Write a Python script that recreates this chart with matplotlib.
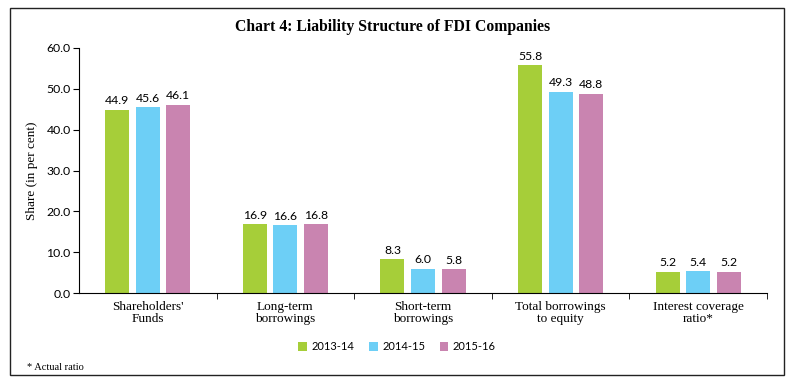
import matplotlib.pyplot as plt
import numpy as np
from matplotlib.patches import Rectangle

plt.rcParams['font.family'] = ['Liberation Serif', 'DejaVu Serif']
num_font = ['Lato', 'DejaVu Sans']

categories = ["Shareholders'\nFunds", "Long-term\nborrowings", "Short-term\nborrowings",
              "Total borrowings\nto equity", "Interest coverage\nratio*"]
years = ["2013-14", "2014-15", "2015-16"]
v_2013 = [44.9, 16.9, 8.3, 55.8, 5.2]
v_2014 = [45.6, 16.6, 6.0, 49.3, 5.4]
v_2015 = [46.1, 16.8, 5.8, 48.8, 5.2]
colors = ["#a6ce39", "#6dcff6", "#c984b0"]

fig = plt.figure(figsize=(7.93, 3.89), dpi=100)
ax = fig.add_axes([79/793, 1-293/389, (767-79)/793, 245/389])

x = np.arange(len(categories))
w = 0.174
step = 0.222
for i, (vals, c, lab) in enumerate(zip([v_2013, v_2014, v_2015], colors, years)):
    bars = ax.bar(x + (i-1)*step, vals, w, color=c, label=lab)
    for b, v in zip(bars, vals):
        ax.text(b.get_x()+b.get_width()/2, v+0.8, f"{v:.1f}", ha='center', va='bottom',
                fontsize=8.8, family=num_font)

ax.set_xlim(-0.5, len(categories)-0.5)
ax.set_ylim(0, 60)
ax.set_yticks(np.arange(0, 61, 10))
ax.set_yticklabels([f"{t:.1f}" for t in np.arange(0, 61, 10)], fontsize=8.8, family=num_font)
ax.set_xticks(x)
ax.set_xticklabels(categories, fontsize=9.5, linespacing=1.0)
ax.tick_params(axis='x', length=0, pad=6)
ax.set_xticks(list(np.arange(0.5, len(categories))), minor=True)
ax.tick_params(axis='x', which='minor', length=4, direction='out')
ax.tick_params(axis='y', length=4, pad=2)
for s in ['top', 'right']:
    ax.spines[s].set_visible(False)
ax.set_ylabel("Share (in per cent)", fontsize=9.5, labelpad=6)

fig.legend(loc='center', bbox_to_anchor=(397/793, 1-347/389), ncol=3, frameon=False,
           prop={'family': num_font, 'size': 8}, handlelength=0.8, handleheight=0.8,
           columnspacing=1.3, handletextpad=0.4)

fig.text(393/793, 1-27/389, "Chart 4: Liability Structure of FDI Companies", ha='center', va='center',
         fontsize=11.3, fontweight='bold')
fig.text(27/793, 1-367/389, "* Actual ratio", ha='left', va='center', fontsize=7.5)

fig.patches.append(Rectangle((10/793, 1-375/389), (784-10)/793, (375-8)/389, transform=fig.transFigure,
                             fill=False, edgecolor='#222222', linewidth=1.0))

fig.savefig("out.png", dpi=100)
